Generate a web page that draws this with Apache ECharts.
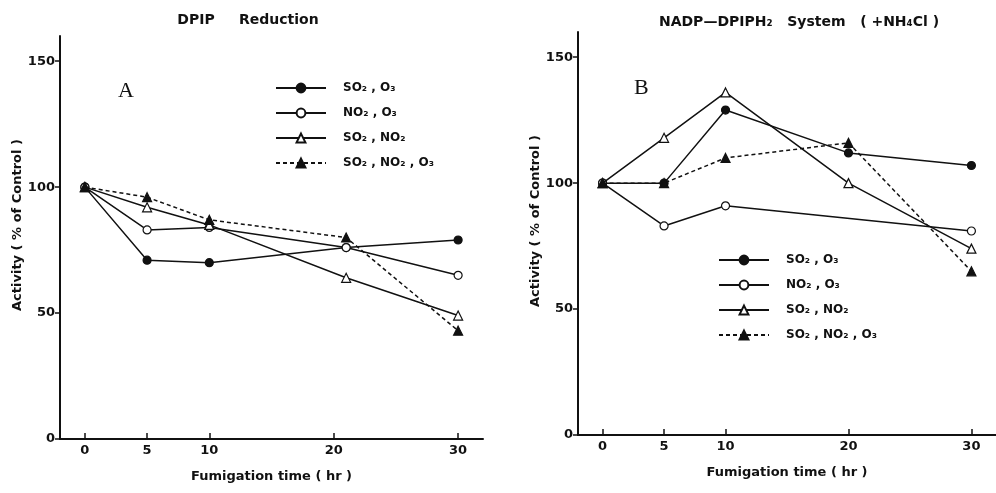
<!DOCTYPE html>
<html>
<head>
<meta charset="utf-8">
<script src="https://cdn.jsdelivr.net/npm/echarts@6/dist/echarts.min.js"></script>
<style>html,body{margin:0;padding:0;background:#fff}#c{width:996px;height:493px}</style>
</head>
<body>
<div id="c"></div>
<script>
// Panel A: DPIP Reduction
const hoursA = [0, 5, 10, 21, 30];
const aSO2O3 = [100, 71, 70, 76, 79];
const aNO2O3 = [100, 83, 84, 76, 65];
const aSO2NO2 = [100, 92, 85, 64, 49];
const aAll = [100, 96, 87, 80, 43];
// Panel B: NADP-DPIPH2 System (+NH4Cl)
const hoursB = [0, 5, 10, 20, 30];
const bSO2O3 = [100, 100, 129, 112, 107];
const bNO2O3 = [100, 83, 91, null, 81];
const bSO2NO2 = [100, 118, 136, 100, 74];
const bAll = [100, 100, 110, 116, 65];

const xTicks = [0, 5, 10, 20, 30];
const yTicks = [0, 50, 100, 150];
const names = ['SO₂ , O₃', 'NO₂ , O₃', 'SO₂ , NO₂', 'SO₂ , NO₂ , O₃'];

const FONT = 'DejaVu Sans';
const pair = (xs, ys) => xs.map((x, i) => [x, ys[i]]);

function xAxis(idx) {
  return {
    type: 'value', gridIndex: idx, min: -2, max: 32,
    name: 'Fumigation time ( hr )', nameLocation: 'middle', nameGap: 31,
    nameTextStyle: { fontFamily: FONT, fontWeight: 'bold', fontSize: 13, color: '#111' },
    axisLine: { onZero: false, lineStyle: { color: '#111', width: 2 } },
    axisTick: { inside: true, length: 6, customValues: xTicks, lineStyle: { color: '#111', width: 1.5 } },
    axisLabel: { customValues: xTicks, fontFamily: FONT, fontWeight: 'bold', fontSize: 13, color: '#111', margin: 5 },
    splitLine: { show: false }
  };
}
function yAxis(idx) {
  return {
    type: 'value', gridIndex: idx, min: 0, max: 160,
    name: 'Activity ( % of Control )', nameLocation: 'middle', nameGap: 30, nameRotate: 90,
    nameTextStyle: { fontFamily: FONT, fontWeight: 'bold', fontSize: 13, color: '#111', padding: [0, 0, 0, 25] },
    axisLine: { show: true, onZero: false, lineStyle: { color: '#111', width: 2 } },
    axisTick: { show: true, length: 5, customValues: yTicks, lineStyle: { color: '#111', width: 1.5 } },
    axisLabel: { customValues: yTicks, fontFamily: FONT, fontWeight: 'bold', fontSize: 13, color: '#111', margin: 5 },
    splitLine: { show: false }
  };
}
const styles = [
  { symbol: 'circle', fill: '#111', dash: 'solid' },
  { symbol: 'circle', fill: '#fff', dash: 'solid' },
  { symbol: 'triangle', fill: '#fff', dash: 'solid' },
  { symbol: 'triangle', fill: '#111', dash: [4, 3] }
];
function mk(name, i, idx, data) {
  const s = styles[i];
  return {
    name: name, type: 'line', xAxisIndex: idx, yAxisIndex: idx,
    data: data, connectNulls: true,
    symbol: s.symbol, symbolSize: s.symbol === 'circle' ? 8 : 9,
    itemStyle: { color: s.fill, borderColor: '#111', borderWidth: 1.2 },
    lineStyle: { color: '#111', width: 1.5, type: s.dash },
    emphasis: { disabled: true }, animation: false, z: 3 + i
  };
}
const legendBase = {
  orient: 'vertical', itemWidth: 50, itemHeight: 11, itemGap: 13,
  textStyle: { fontFamily: FONT, fontWeight: 'bold', fontSize: 12, color: '#111', padding: [0, 0, 0, 12] },
  data: names, selectedMode: false
};

const chart = echarts.init(document.getElementById('c'), null, { renderer: 'canvas' });
chart.setOption({
  animation: false,
  backgroundColor: '#fff',
  title: [
    { text: 'DPIP     Reduction', left: 243, top: 8, textAlign: 'center',
      textStyle: { fontFamily: FONT, fontWeight: 'bold', fontSize: 14, color: '#111' } },
    { text: 'NADP—DPIPH₂   System   ( +NH₄Cl )', left: 794, top: 10, textAlign: 'center',
      textStyle: { fontFamily: FONT, fontWeight: 'bold', fontSize: 14, color: '#111' } }
  ],
  grid: [
    { left: 60, top: 36, width: 423, bottom: 54 },
    { left: 578, top: 32, width: 418, bottom: 58 }
  ],
  xAxis: [xAxis(0), xAxis(1)],
  yAxis: [yAxis(0), yAxis(1)],
  legend: [
    Object.assign({}, legendBase, { left: 270, top: 77 }),
    Object.assign({}, legendBase, { left: 713, top: 249 })
  ],
  graphic: [
    { type: 'text', left: 118, top: 80, style: { text: 'A', font: '22px "Liberation Serif"', fill: '#111' } },
    { type: 'text', left: 634, top: 77, style: { text: 'B', font: '22px "Liberation Serif"', fill: '#111' } }
  ],
  series: [
    mk(names[0], 0, 0, pair(hoursA, aSO2O3)),
    mk(names[1], 1, 0, pair(hoursA, aNO2O3)),
    mk(names[2], 2, 0, pair(hoursA, aSO2NO2)),
    mk(names[3], 3, 0, pair(hoursA, aAll)),
    mk(names[0], 0, 1, pair(hoursB, bSO2O3)),
    mk(names[1], 1, 1, pair(hoursB, bNO2O3)),
    mk(names[2], 2, 1, pair(hoursB, bSO2NO2)),
    mk(names[3], 3, 1, pair(hoursB, bAll))
  ]
});
</script>
</body>
</html>
